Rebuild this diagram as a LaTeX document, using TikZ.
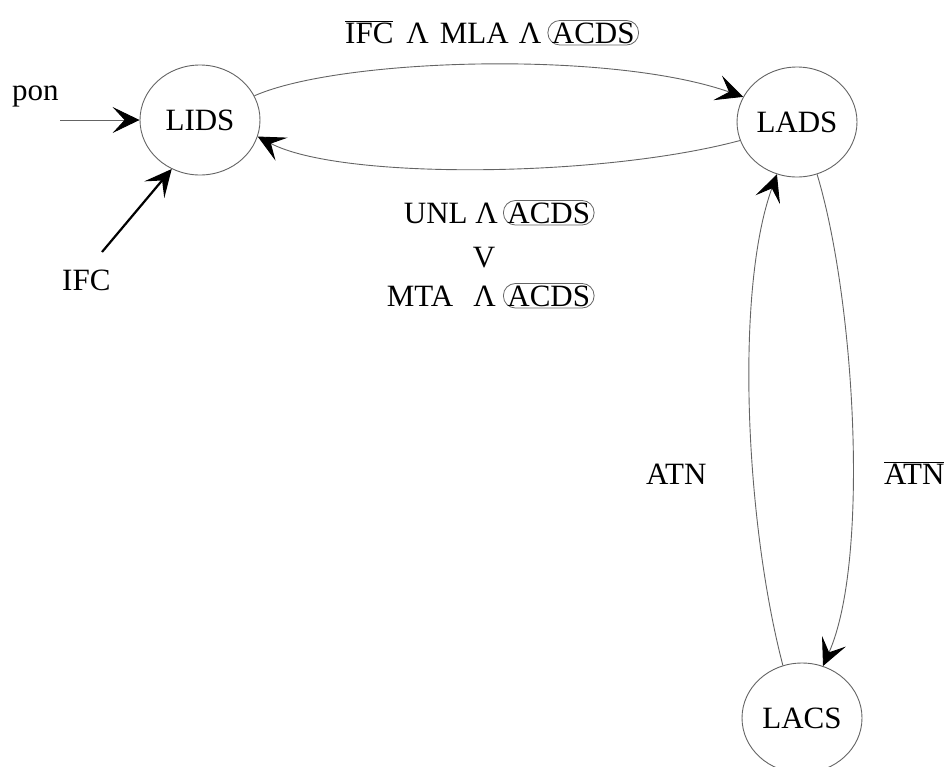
\documentclass[tikz,border=0pt]{standalone}
\usepackage{fontspec}
\setmainfont{Liberation Serif}
\usetikzlibrary{arrows.meta,shapes.geometric}
\definecolor{linegray}{RGB}{100,100,100}
\newcommand\barred[1]{\ensuremath{\overline{\mbox{#1}}}}
\begin{document}
\begin{tikzpicture}[x=1pt,y=-1pt,
  txt/.style={font=\fontsize{31}{37}\selectfont, inner sep=0pt},
  state/.style={ellipse, draw=linegray, line width=0.9pt, minimum width=120pt,
    minimum height=110pt, txt},
  tip/.style={-{Stealth[length=27pt,width=26pt,inset=12pt,color=black]}},
  trans/.style={draw=linegray, line width=0.9pt, tip},
  oval/.style={txt, draw=linegray, line width=0.8pt, rounded corners=12pt,
    inner xsep=4pt, inner ysep=2pt, text height=20.5pt, text depth=0pt}
]
\useasboundingbox (0,0) rectangle (949,766);
\clip (0,0) rectangle (949,766);

% states
\node[state] (lids) at (200,120) {LIDS};
\node[state] (lads) at (797,122) {LADS};
\node[state] (lacs) at (802,718) {LACS};

% power-on entry
\node[txt, anchor=base west] (pon) at (12,100) {pon};
\coordinate (ponstart) at (60,120);
\draw[trans] (ponstart) -- (lids);

% IFC entry
\node[txt, anchor=base west] (ifc) at (62,290) {IFC};
\coordinate (ifcfoot) at (102,252);
\draw[line width=2.2pt, black, tip] (ifcfoot) -- (lids.240);

% transitions
\draw[trans] (lids.24) .. controls (340,58) and (610,50) .. (lads.155);
\draw[trans] (lads.198) .. controls (600,178) and (340,180) .. (lids.344);
\draw[trans] (lacs.110) .. controls (745,520) and (735,290) .. (lads.249);
\draw[trans] (lads.291) .. controls (855,300) and (870,560) .. (lacs.68);

% guard on LIDS -> LADS
\node[txt, anchor=base west] (toplbl) at (345,43)
  {\barred{IFC}\hspace{13pt}Λ\hspace{11pt}MLA\hspace{10pt}Λ};
\node[oval, anchor=base west] (acdsA) at ([xshift=6pt]toplbl.base east) {ACDS};

% guard on LADS -> LIDS
\node[oval, anchor=base west] (acdsB) at (503,223) {ACDS};
\node[txt, anchor=base east] (unl) at ([xshift=-5pt]acdsB.base west) {UNL Λ};
\node[txt, anchor=base] (orsym) at (484,267) {V};
\node[oval, anchor=base west] (acdsC) at (503,306) {ACDS};
\node[txt, anchor=base east] (mta) at ([xshift=-7pt]acdsC.base west)
  {MTA\hspace{20pt}Λ};

% guards between LADS and LACS
\node[txt, anchor=base west] (atn) at (646,484) {ATN};
\node[txt, anchor=base west] (atnbar) at (884,484) {\barred{ATN}};
\end{tikzpicture}
\end{document}
